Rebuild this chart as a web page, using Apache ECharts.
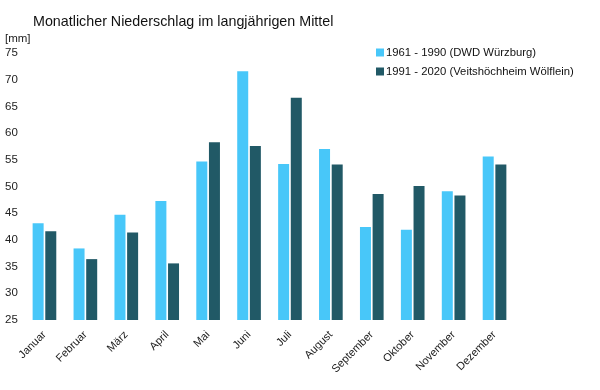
<!DOCTYPE html>
<html><head><meta charset="utf-8">
<script src="https://cdn.jsdelivr.net/npm/echarts@6/dist/echarts.min.js"></script>
<style>html,body{margin:0;padding:0;background:#fff}#c{width:600px;height:390px}</style>
</head><body><div id="c"></div>
<script>
const categories = ["Januar","Februar","März","April","Mai","Juni","Juli","August","September","Oktober","November","Dezember"];
const series1961 = [43.1,38.4,44.7,47.3,54.7,71.6,54.2,57.0,42.4,41.9,49.1,55.6];
const series1991 = [41.6,36.4,41.4,35.6,58.3,57.6,66.6,54.1,48.6,50.1,48.3,54.1];
const seriesNames = ["1961 - 1990 (DWD Würzburg)","1991 - 2020 (Veitshöchheim Wölflein)"];
const chart = echarts.init(document.getElementById('c'));
const font = 'Liberation Sans, Arial, sans-serif';
chart.setOption({
  animation:false,
  textStyle:{fontFamily:font},
  title:{text:'Monatlicher Niederschlag im langjährigen Mittel',left:28,top:10,textStyle:{fontFamily:font,fontSize:14.3,fontWeight:'normal',color:'#111'}},
  legend:{orient:'vertical',left:371,top:42,itemWidth:8,itemHeight:8,itemGap:8,icon:'rect',
    textStyle:{fontFamily:font,fontSize:11.3,color:'#111',padding:[0,0,0,-3]},data:seriesNames},
  grid:{left:24,right:85,top:53,bottom:70,containLabel:false},
  xAxis:{type:'category',data:categories,axisLine:{show:false},axisTick:{show:false},
    axisLabel:{rotate:45,interval:0,fontSize:11,color:'#222',fontFamily:font,margin:13}},
  yAxis:{type:'value',min:25,max:75,interval:5,splitLine:{show:false},axisLine:{show:false},axisTick:{show:false},
    name:'[mm]',nameLocation:'end',nameGap:8,nameTextStyle:{align:'left',padding:[0,0,0,-19],fontSize:11.5,color:'#222',fontFamily:font},
    axisLabel:{align:'left',margin:19,fontSize:11.5,color:'#222',fontFamily:font}},
  series:[
    {name:seriesNames[0],type:'bar',data:series1961,barWidth:11,barGap:'15%',itemStyle:{color:'#48c7f9'}},
    {name:seriesNames[1],type:'bar',data:series1991,barWidth:11,itemStyle:{color:'#215966'}}
  ]
});
</script></body></html>
